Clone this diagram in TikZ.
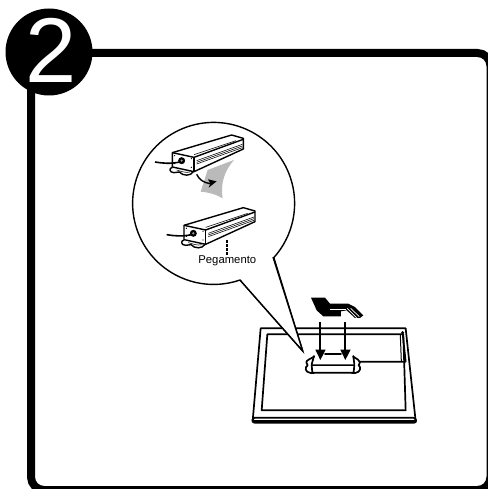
\documentclass[tikz,border=0pt]{standalone}
\usepackage{fontspec}
\setmainfont{Liberation Sans}
\tikzset{
  frameline/.style={line width=8pt,line join=round},
  thinline/.style={line width=1.7pt,line join=round,line cap=round},
  fineline/.style={line width=0.55pt},
  devline/.style={line width=1.4pt,line join=round},
  zoomA/.style={shift={(130,120)},x=0.3333pt,y=-0.3333pt},
  zoomB/.style={shift={(240,285)},x=0.3333pt,y=-0.3333pt}
}
\newcommand{\devicebody}{%
  % mounting bracket
  \draw[devline,fill=white] (127,142) .. controls (116,144) and (118,158) .. (132,158) -- (148,156) .. controls (158,168) and (182,170) .. (191,154);
  \draw[fineline] (140,150) .. controls (150,153) and (168,160) .. (180,156);
  % top + side outline
  \fill[white] (127,98) -- (305,45) -- (340,55) -- (340,87) -- (192,155) -- (127,141) -- cycle;
  \draw[devline] (127,98) -- (305,45) -- (340,55) -- (340,87) -- (192,155) -- (127,141) -- cycle;
  \draw[devline] (127,98) -- (192,112) -- (340,58);
  \draw[devline] (192,112) -- (192,155);
  % ribs
  \draw[fineline] (200,122) -- (337,73);
  \draw[fineline] (200,127) -- (337,78);
  \draw[fineline] (200,132) -- (337,83);
  \draw[fineline] (192,104) -- (318,62);
  % cable and connector
  \draw[line width=1.6pt] (75,126) .. controls (100,130) and (120,132) .. (150,126);
  \fill (155,122) circle [radius=10.5];
  \fill[black!35] (155,122) circle [radius=3.5];
  % corner screws
  \fill (134,107) circle [radius=2];
  \fill (184,116) circle [radius=2];
  \fill (134,131) circle [radius=2];
  \fill (184,142) circle [radius=2];
}
\begin{document}
\begin{tikzpicture}[x=1pt,y=-1pt]
  \useasboundingbox (0,0) rectangle (487,489);
  \fill[white] (0,0) rectangle (487,489);
  % page frame
  \draw[frameline,rounded corners=13pt] (31,60) -- (31,490) -- (490.5,490) -- (490.5,53) -- (60,53);
  % badge
  \fill (49,52) circle [radius=43.5];
  \node[text=white,inner sep=0pt,font=\fontsize{92}{92}\selectfont] (badge) at (51,50) {2};

  % tablet
  \begin{scope}[zoomB]
    \draw[thinline] (62,130) -- (497,130) -- (527,408) -- (38,408) -- cycle;
    \draw[thinline,rounded corners=2pt] (38,398) -- (527,398) -- (529,413) -- (37,413) -- cycle;
    \draw[thinline] (82,148) -- (490,148) -- (497,376) -- (65,376) -- cycle;
    % cable
    \draw[thinline] (488,145) -- (497,230) -- (355,230);
    \draw[line width=1pt] (481,150) -- (484,228);
    \fill (488,143) circle [radius=5];
    % mount: side flanges
    \draw[thinline,fill=white] (222,215) -- (206,224) .. controls (197,228) and (197,236) .. (203,241) .. controls (194,246) and (194,262) .. (212,264) -- (222,264) -- cycle;
    \draw[thinline,fill=white] (340,215) -- (354,224) .. controls (362,228) and (361,236) .. (356,241) .. controls (364,246) and (362,262) .. (346,264) -- (336,264) -- cycle;
    % mount: body
    \draw[thinline,fill=white] (215,240) -- (343,240) -- (341,263) -- (217,263) -- cycle;
    \fill[white] (223,217) -- (339,217) -- (342,238) -- (217,238) -- cycle;
    \draw[thinline] (222,213) -- (215,238);
    \draw[thinline] (340,213) -- (343,238);
    \draw[thinline] (255,208) -- (303,208);
    % arrows
    \draw[line width=1.7pt] (241,110) -- (241,200);
    \fill (241,225) -- (226,194) -- (257,194) -- cycle;
    \draw[line width=1.7pt] (316,110) -- (316,200);
    \fill (316,225) -- (301,194) -- (332,194) -- cycle;
    % hand
    \fill (213,38) -- (255,38) -- (270,56) -- (325,56) -- (345,66) -- (370,91) -- (360,99) -- (345,99) -- (320,76) -- (303,79) -- (303,94) -- (250,94) -- (230,76) -- cycle;
    \draw[white,line width=0.9pt] (270,73) -- (318,73);
    \draw[white,line width=0.7pt] (322,70) -- (350,98);
    \draw[white,line width=0.7pt] (332,70) -- (358,95);
  \end{scope}

  % magnifier callout
  \draw[line width=1.4pt,line join=round,fill=white] (240,280) arc[start angle=71,end angle=402,radius=81] -- (302.7,351) -- cycle;
  \fill[white] (241,281) -- (272.5,258) -- (302,349) -- cycle;
  \draw[line width=1.4pt] (240,280) -- (302.7,351) -- (273,257);

  % gray patch, devices, labels
  \begin{scope}[zoomA]
    \fill[black!27] (233,150) -- (312,120) .. controls (285,150) and (270,190) .. (278,235) .. controls (255,222) and (235,217) .. (212,215) -- cycle;
    \devicebody
    \draw[line width=1.4pt] (200,163) .. controls (208,180) and (222,188) .. (240,191);
    \fill (260,184) -- (234,178) -- (241,191) -- (236,203) -- cycle;
    \begin{scope}[shift={(35,218)}]
      \devicebody
    \end{scope}
    \draw[line width=1.7pt,dash pattern=on 2.6pt off 1.5pt] (292,360) -- (292,405);
    \node[inner sep=0pt,font=\fontsize{11.3}{12}\selectfont] (glue) at (292,421) {Pegamento};
  \end{scope}
\end{tikzpicture}
\end{document}
